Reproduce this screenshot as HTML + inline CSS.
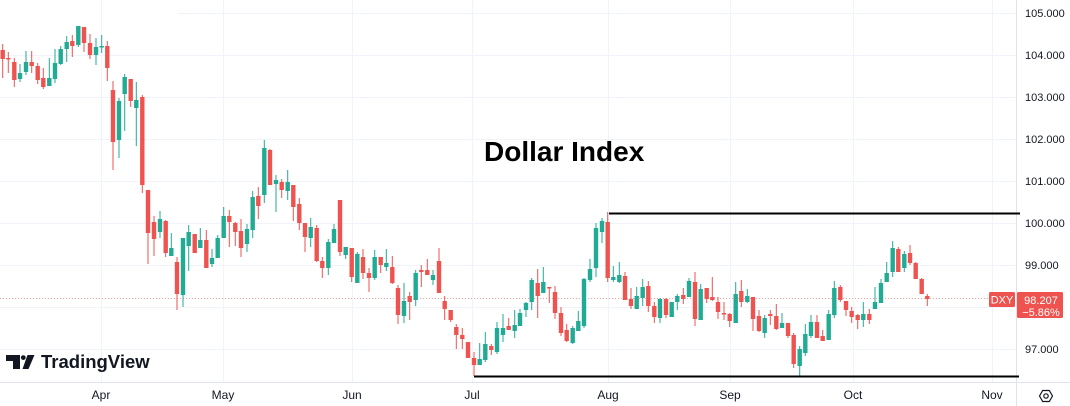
<!DOCTYPE html>
<html>
<head>
<meta charset="utf-8">
<style>
  html,body{margin:0;padding:0;background:#fff;}
  body{width:1070px;height:406px;overflow:hidden;}
  svg{display:block;}
  .ax{font-family:"Liberation Sans",sans-serif;font-size:11px;fill:#131722;}
  .tm{font-family:"Liberation Sans",sans-serif;font-size:12px;fill:#131722;}
</style>
</head>
<body>
<svg width="1070" height="406" viewBox="0 0 1070 406" xmlns="http://www.w3.org/2000/svg">
  <rect width="1070" height="406" fill="#ffffff"/>
  <!-- grid -->
  <g stroke="#f0f3fa" stroke-width="1">
    <path d="M178 13.5H1016M0 55.5H1016M0 97.5H1016M0 139.5H1016M0 181.5H1016M0 223.5H1016M0 265.5H1016M0 307.5H1016M0 349.5H1016"/>
    <path d="M101.5 0V382M223.5 0V382M352.5 0V382M472.5 0V382M608.5 0V382M730.5 0V382M853.5 0V382M992.5 0V382"/>
  </g>
  <!-- axis borders -->
  <path d="M1016.5 0V406M0 382.5H1070" stroke="#e0e3eb" stroke-width="1"/>

  <!-- title -->
  <text x="484" y="161" font-family="Liberation Sans, sans-serif" font-size="28" font-weight="bold" fill="#000">Dollar Index</text>

  <!-- last price dotted line -->
  <path d="M0 298.5H989" stroke="#ef5350" stroke-width="1" stroke-dasharray="1 2" opacity="0.55"/>

  <!-- green candles -->
  <g stroke="#22ab94" fill="none">
    <path stroke-width="1" d="M20 64V82M26 51V75M49.3 58V86M55 49V83M60.7 46V65M66.7 36V62M78.3 26V47M96 38V65M101.7 35V53M119 98V158M124.7 74V131M136.3 82V146M160 211V238M171.3 233V256M183 238V307M188.7 225V271M200.3 228V248M212 249V267M217.7 235V258M223.7 207V238M247 224V252M252.7 191V238M264.3 140V203M276 175V212M287.7 170V200M310.7 218V247M328.3 239V275M334 224V243M345.7 247V259M357.3 252V283M374.7 250V280M386.3 249V271M404 283V323M415.7 270V306M433 270V285M479.7 343V365M485.3 332V362M497 322V354M503 314V342M514.7 310V338M520 309V326M526 302V317M531.7 278V310M543.3 267V293M572.7 326V344M578.3 311V331M584 278V328M590 259V282M596 223V277M602 218V243M613.3 266V282M619.3 262V283M636.7 287V309M642.7 279V306M660 298V323M671.7 302V317M677.3 294V310M689 278V297M700.7 284V320M735.7 282V323M747.3 289V303M764.7 315V338M782 313V328M799.7 346V377M805.3 324V356M811 315V338M828.7 310V340M834.3 281V318M863.3 302V327M875 287V309M881 279V303M886.7 262V282M892.7 241V277M904.3 251V272"/>
    <path stroke-width="4.4" d="M20 73V79M26 62V72M49.3 78V86M55 63V79M60.7 49V64M66.7 42V49M78.3 26V45M96 47V55M101.7 46V47.5M119 101V140M124.7 77V94M136.3 100V108M160 219V232M171.3 248V256M183 238V295M188.7 232V246M200.3 240V248M212 258V264M217.7 238V258M223.7 216V238M247 229V244M252.7 197V230M264.3 148V195M276 180V184M287.7 182V191M310.7 227V238M328.3 242V268M334 229V243M345.7 247V255M357.3 254V283M374.7 257V278M386.3 263V267M404 301V316M415.7 273V300M433 275V280M479.7 359V365M485.3 344V360M497 328V352M503 328V335M514.7 325V331M520 313V326M526 303V310M531.7 280V302M543.3 282V293M572.7 328V343M578.3 321V331M584 279V326M590 269V280M596 228V268M602 221V232M613.3 277V280M619.3 275V282M636.7 296V309M642.7 287V298M660 299V318M671.7 302V317M677.3 296V302M689 281V297M700.7 289V320M735.7 294V323M747.3 296V302M764.7 318V333M782 323V328M799.7 349V366M805.3 334V353M811 322V336M828.7 314V340M834.3 288V315M863.3 314V320M875 302V309M881 283V303M886.7 273V282M892.7 248V272M904.3 254V268"/>
  </g>
  <!-- red candles -->
  <g stroke="#ef5350" fill="none">
    <path stroke-width="1" d="M2.7 44V78M8.3 52V73M14.3 58V87M31.7 51V73M37.7 63V84M43.3 68V89M72.3 35V57M84 27V52M90 34V59M107.3 41V81M113 81V170M130.7 79V107M142.3 95V193M148 190V264M154 216V256M165.7 220V257M177 257V310M194.7 234V253M206.3 230V268M229.3 210V247M235.3 222V246M241 219V257M258.3 187V219M270 149V185M281.7 179V198M293.3 185V221M299.3 198V230M305 223V252M316.7 225V262M322.3 257V278M340 200V256M351.7 248V282M363 249V279M369 268V292M380.7 257V273M392.3 256V284M398 285V324M409.7 292V320M421.3 265V287M427.3 259V275M439 248V293M444.7 296V320M450.7 310V322M456.3 324V349M462.3 328V349M468 342V358M474 352V376M491.3 344V355M508.7 318V330M537.7 269V318M549.3 287V303M555 286V319M561 307V336M566.7 324V342M607.7 212V282M625 272V300M631 288V309M648.3 281V312M654.3 302V323M666 298V318M683.3 288V304M695 272V326M706.7 288V303M712.3 277V301M718 297V319M724 302V320M729.7 313V327M741.3 280V307M753 297V331M759 310V332M770.3 310V325M776.3 304V330M788 323V338M793.7 333V368M817 315V338M822.7 330V341M840.3 285V302M846 301V316M851.7 307V323M857.7 314V329M869.3 309V324M898.3 247V272M910 245V265M915.7 262V279M921.7 278V294M927.3 294V306"/>
    <path stroke-width="4.4" d="M2.7 50V59M8.3 58V59.5M14.3 62V80M31.7 62V66M37.7 66V80M43.3 78V87M72.3 41V46M84 27V43M90 43V55M107.3 46V68M113 90V142M130.7 79V101M142.3 97V185M148 190V233M154 222V239M165.7 221V253M177 262V294M194.7 234V253M206.3 240V268M229.3 216V222M235.3 223V232M241 231V248M258.3 196V206M270 150V185M281.7 182V190M293.3 185V207M299.3 204V223M305 223V237M316.7 228V261M322.3 261V268M340 200V252M351.7 248V277M363 257V273M369 273V278M380.7 257V265M392.3 267V283M398 288V315M409.7 296V302M421.3 270V272M427.3 270V275M439 261V293M444.7 301V309M450.7 310V320M456.3 327V335M462.3 335V339M468 342V358M474 358V365M491.3 346V350M508.7 326V330M537.7 283V296M549.3 287V288.5M555 292V313M561 313V333M566.7 330V341M607.7 222V278M625 276V300M631 299V306M648.3 286V306M654.3 306V317M666 299V315M683.3 295V299M695 282V319M706.7 288V299M712.3 297V300M718 302V312M724 313V314.5M729.7 314V321M741.3 291V302M753 297V319M759 316V331M770.3 314V316M776.3 316V329M788 323V336M793.7 335V364M817 322V338M822.7 336V341M840.3 287V300M846 301V310M851.7 311V317M857.7 315V320M869.3 314V320M898.3 249V272M910 253V263M915.7 263V279M921.7 279V294M927.3 296V299"/>
  </g>

  <!-- horizontal black lines -->
  <path d="M609 213.5H1020" stroke="#000" stroke-width="2"/>
  <path d="M474 376.5H1019" stroke="#000" stroke-width="2"/>

  <!-- price axis labels -->
  <g class="ax">
    <text x="1025" y="17">105.000</text>
    <text x="1025" y="59">104.000</text>
    <text x="1025" y="101">103.000</text>
    <text x="1025" y="143">102.000</text>
    <text x="1025" y="185">101.000</text>
    <text x="1025" y="227">100.000</text>
    <text x="1025" y="269">99.000</text>
    <text x="1025" y="353">97.000</text>
  </g>

  <!-- DXY label + price tag -->
  <rect x="989" y="292" width="26" height="15" rx="1.5" fill="#ef5350"/>
  <text x="1002" y="303.5" text-anchor="middle" font-family="Liberation Sans, sans-serif" font-size="11" fill="#fff">DXY</text>
  <rect x="1017" y="292" width="46" height="26" rx="1.5" fill="#ef5350"/>
  <text x="1041" y="304" text-anchor="middle" font-family="Liberation Sans, sans-serif" font-size="11" fill="#fff">98.207</text>
  <text x="1041" y="316" text-anchor="middle" font-family="Liberation Sans, sans-serif" font-size="11" fill="#fff">−5.86%</text>

  <!-- time axis labels -->
  <g class="tm" text-anchor="middle">
    <text x="101" y="399">Apr</text>
    <text x="223" y="399">May</text>
    <text x="352" y="399">Jun</text>
    <text x="472" y="399">Jul</text>
    <text x="608" y="399">Aug</text>
    <text x="730" y="399">Sep</text>
    <text x="853" y="399">Oct</text>
    <text x="992" y="399">Nov</text>
  </g>

  <!-- settings icon -->
  <g fill="none" stroke="#131722" stroke-width="1.2">
    <path d="M1039.5 396L1042.7 390.5H1049.3L1052.5 396L1049.3 401.5H1042.7Z"/>
    <circle cx="1046" cy="396" r="2.2"/>
  </g>

  <!-- TradingView logo -->
  <g fill="#131722">
    <path d="M6 355H20V369H13V361H6Z"/>
    <circle cx="23.3" cy="357.6" r="2.4"/>
    <path d="M27.5 355H34.5L28.5 369H22.5Z"/>
  </g>
  <text x="41" y="368" font-family="Liberation Sans, sans-serif" font-size="18.5" font-weight="bold" fill="#131722">TradingView</text>
</svg>
</body>
</html>
